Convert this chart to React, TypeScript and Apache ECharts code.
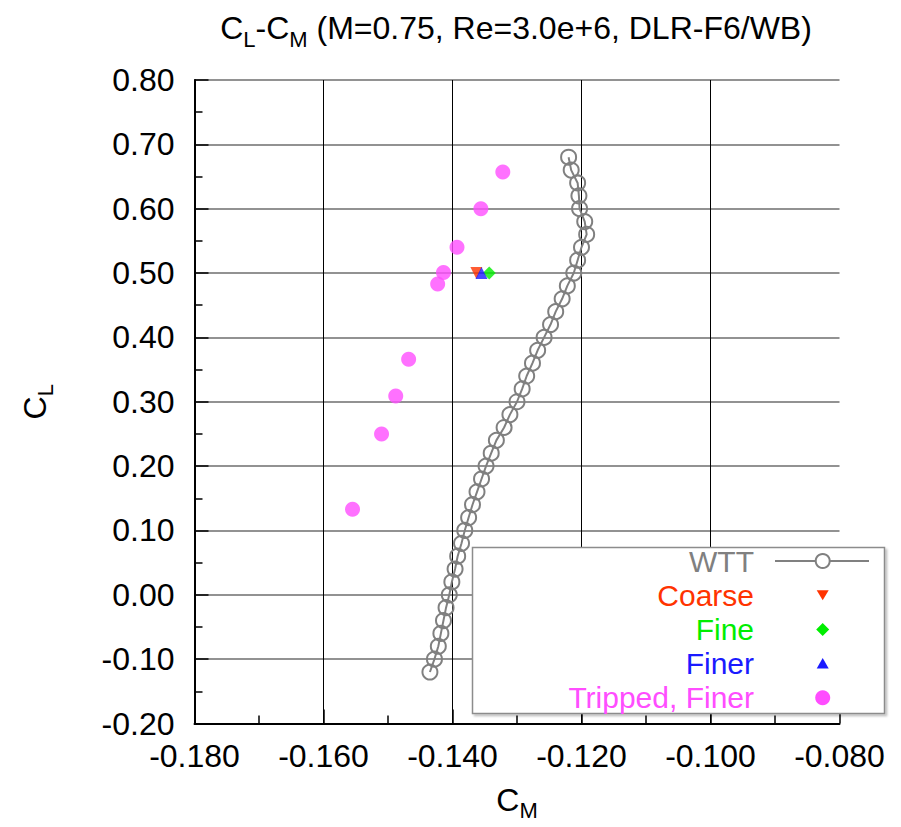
import React, { useEffect, useRef } from "react";
import * as echarts from "echarts";

// ---- data ----
const wttCM = [
  -0.1435, -0.1428, -0.1422, -0.1418, -0.1414, -0.141, -0.1405, -0.1401, -0.1396, -0.1392,
  -0.1386, -0.1381, -0.1375, -0.1369, -0.1362, -0.1355, -0.1348, -0.134, -0.1332, -0.132,
  -0.1311, -0.13, -0.1292, -0.1285, -0.1276, -0.1268, -0.1258, -0.1248, -0.124, -0.123,
  -0.1222, -0.1212, -0.1206, -0.12, -0.1192, -0.1195, -0.1203, -0.1204, -0.1206, -0.1216,
  -0.122,
];
const wttCL = [
  -0.12, -0.1, -0.08, -0.06, -0.04, -0.02, 0.0, 0.02, 0.04, 0.06,
  0.08, 0.1, 0.12, 0.14, 0.16, 0.18, 0.2, 0.22, 0.24, 0.26,
  0.28, 0.3, 0.32, 0.34, 0.36, 0.38, 0.4, 0.42, 0.44, 0.46,
  0.48, 0.5, 0.52, 0.54, 0.56, 0.58, 0.6, 0.62, 0.64, 0.66,
  0.68,
];
const coarseCM = [-0.1363];
const coarseCL = [0.5];
const fineCM = [-0.1343];
const fineCL = [0.5];
const finerCM = [-0.1355];
const finerCL = [0.5];
const trippedCM = [-0.1322, -0.1356, -0.1393, -0.1414, -0.1423, -0.1468, -0.1488, -0.151, -0.1555];
const trippedCL = [0.657, 0.6, 0.54, 0.501, 0.483, 0.366, 0.309, 0.25, 0.133];

const xTicks = { min: -0.18, max: -0.08, interval: 0.02 };
const yTicks = { min: -0.2, max: 0.8, interval: 0.1 };

const legendNames = ["WTT", "Coarse", "Fine", "Finer", "Tripped, Finer"];
const legendColors = ["#808080", "#ff3300", "#00ee00", "#1a1aff", "#ff4dff"];

const zip = (a: number[], b: number[]) => a.map((v, i) => [v, b[i]]);

const FONT = "'Liberation Sans', Arial, sans-serif";

export default function App() {
  const ref = useRef<HTMLDivElement>(null);

  useEffect(() => {
    if (!ref.current) return;
    const chart = echarts.init(ref.current, undefined, { renderer: "svg" });

    const subRich = (size: number, sub: number) => ({
      a: { fontSize: size, fontFamily: FONT, color: "#000", lineHeight: size + 12, verticalAlign: "middle" },
      s: { fontSize: sub, fontFamily: FONT, color: "#000", lineHeight: sub, verticalAlign: "bottom" },
    });

    const lx = 754;
    const sx = 822.7;
    const rows = [561, 595.2, 629.4, 663.6, 697.8];

    const legendGraphics: any[] = [
      {
        type: "rect",
        z: 100,
        shape: { x: 472.5, y: 547.5, width: 412, height: 166 },
        style: { fill: "#fff", stroke: "#8c8c8c", lineWidth: 1.5, shadowColor: "rgba(0,0,0,0.25)", shadowOffsetX: 2, shadowOffsetY: 2, shadowBlur: 2 },
      },
      {
        type: "line",
        z: 101,
        shape: { x1: 775, y1: rows[0], x2: 869, y2: rows[0] },
        style: { stroke: legendColors[0], lineWidth: 2 },
      },
      {
        type: "circle",
        z: 102,
        shape: { cx: sx, cy: rows[0], r: 7 },
        style: { fill: "#fff", stroke: legendColors[0], lineWidth: 2 },
      },
      {
        type: "polygon",
        z: 101,
        shape: { points: [[sx - 6, rows[1] - 5], [sx + 6, rows[1] - 5], [sx, rows[1] + 5]] },
        style: { fill: legendColors[1] },
      },
      {
        type: "polygon",
        z: 101,
        shape: { points: [[sx, rows[2] - 6.5], [sx + 6.5, rows[2]], [sx, rows[2] + 6.5], [sx - 6.5, rows[2]]] },
        style: { fill: legendColors[2] },
      },
      {
        type: "polygon",
        z: 101,
        shape: { points: [[sx, rows[3] - 5.5], [sx + 6, rows[3] + 5], [sx - 6, rows[3] + 5]] },
        style: { fill: legendColors[3] },
      },
      {
        type: "circle",
        z: 101,
        shape: { cx: sx, cy: rows[4], r: 7.5 },
        style: { fill: legendColors[4] },
      },
      ...legendNames.map((n, i) => ({
        type: "text",
        z: 101,
        x: lx,
        y: rows[i],
        style: {
          text: n,
          fill: legendColors[i],
          fontSize: 30,
          fontFamily: FONT,
          lineHeight: 30,
          align: "right",
          verticalAlign: "middle",
        },
      })),
    ];

    const option: any = {
      animation: false,
      backgroundColor: "#fff",
      grid: { left: 194.5, right: 61.5, top: 80, bottom: 103.5 },
      graphic: [
        {
          type: "text",
          x: 516,
          y: 6,
          style: {
            text: "{a|C}{s|L}{a|-C}{s|M}{a| (M=0.75, Re=3.0e+6, DLR-F6/WB)}",
            rich: subRich(32, 22),
            align: "center",
            verticalAlign: "top",
          },
        },
        ...legendGraphics,
      ],
      xAxis: {
        type: "value",
        min: xTicks.min,
        max: xTicks.max,
        interval: xTicks.interval,
        name: "{a|C}{s|M}",
        nameLocation: "middle",
        nameGap: 54,
        nameTextStyle: { rich: subRich(32, 22) },
        axisLine: { onZero: false, lineStyle: { color: "#000", width: 2 } },
        axisTick: { inside: true, length: 14, lineStyle: { color: "#000", width: 1.5 } },
        minorTick: { show: true, splitNumber: 2, length: 8, lineStyle: { color: "#000", width: 1.5 } },
        splitLine: { show: true, showMaxLine: false, lineStyle: { color: "#000", width: 1 } },
        axisLabel: {
          margin: 16,
          fontSize: 32,
          fontFamily: FONT,
          color: "#000",
          formatter: (v: number) => (Math.abs(v) < 1e-9 ? 0 : v).toFixed(3),
        },
      },
      yAxis: {
        type: "value",
        min: yTicks.min,
        max: yTicks.max,
        interval: yTicks.interval,
        name: "{a|C}{s|L}",
        nameLocation: "middle",
        nameGap: 138,
        nameRotate: 90,
        nameTextStyle: { rich: subRich(32, 22) },
        axisLine: { onZero: false, lineStyle: { color: "#000", width: 2 } },
        axisTick: { inside: true, length: 14, lineStyle: { color: "#000", width: 1.5 } },
        minorTick: { show: true, splitNumber: 2, length: 8, lineStyle: { color: "#000", width: 1.5 } },
        splitLine: { show: true, lineStyle: { color: "#6e6e6e", width: 1.5 } },
        axisLabel: {
          margin: 20,
          fontSize: 32,
          fontFamily: FONT,
          color: "#000",
          formatter: (v: number) => (Math.abs(v) < 1e-9 ? 0 : v).toFixed(2),
        },
      },
      series: [
        {
          name: "WTT",
          type: "line",
          data: zip(wttCM, wttCL),
          symbol: "circle",
          symbolSize: 15,
          lineStyle: { color: "#808080", width: 2 },
          itemStyle: { color: "rgba(255,255,255,0)", borderColor: "#808080", borderWidth: 2 },
          z: 3,
        },
        {
          name: "Coarse",
          type: "scatter",
          data: zip(coarseCM, coarseCL),
          symbol: "triangle",
          symbolRotate: 180,
          symbolSize: 12,
          itemStyle: { color: legendColors[1] },
          z: 4,
        },
        {
          name: "Fine",
          type: "scatter",
          data: zip(fineCM, fineCL),
          symbol: "diamond",
          symbolSize: 13,
          itemStyle: { color: legendColors[2] },
          z: 4,
        },
        {
          name: "Finer",
          type: "scatter",
          data: zip(finerCM, finerCL),
          symbol: "triangle",
          symbolSize: 12,
          itemStyle: { color: legendColors[3] },
          z: 5,
        },
        {
          name: "Tripped, Finer",
          type: "scatter",
          data: zip(trippedCM, trippedCL),
          symbol: "circle",
          symbolSize: 15,
          itemStyle: { color: legendColors[4] },
          z: 4,
        },
      ],
    };

    chart.setOption(option);
    return () => chart.dispose();
  }, []);

  return (
    <div
      ref={ref}
      style={{ position: "absolute", left: 0, top: 0, width: 901, height: 827 }}
    />
  );
}
